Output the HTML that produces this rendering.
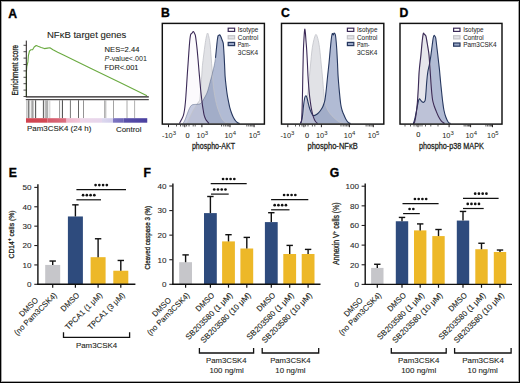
<!DOCTYPE html>
<html><head><meta charset="utf-8"><title>Figure</title>
<style>
html,body{margin:0;padding:0;background:#fff;}
body{width:520px;height:383px;overflow:hidden;}
svg{display:block;font-family:"Liberation Sans", sans-serif;}
#wrap{width:520px;height:383px;}
</style></head>
<body>
<div id="wrap">
<svg width="520" height="383" viewBox="0 0 520 383">
<rect x="0" y="0" width="520" height="383" fill="#fff"/>
<g transform="translate(8.2 18.2) scale(1 1)"><text x="0" y="0" font-size="12.2" font-weight="bold" fill="#000" stroke="#000" stroke-width="0.35">A</text></g>
<text x="86.7" y="38.1" font-size="9.8" text-anchor="middle" fill="#231f20" stroke="#231f20" stroke-width="0.1" textLength="79.4" lengthAdjust="spacingAndGlyphs">NF&#954;B target genes</text>
<text x="104.6" y="51.6" font-size="7.9" text-anchor="start" fill="#231f20" stroke="#231f20" stroke-width="0.1" textLength="34.8" lengthAdjust="spacingAndGlyphs">NES=2.44</text>
<text x="104.6" y="60.7" font-size="7.9" fill="#231f20" textLength="42.4" lengthAdjust="spacingAndGlyphs"><tspan font-style="italic">P</tspan>-value&lt;.001</text>
<text x="104.6" y="69.7" font-size="7.9" text-anchor="start" fill="#231f20" stroke="#231f20" stroke-width="0.1" textLength="33.8" lengthAdjust="spacingAndGlyphs">FDR&lt;.001</text>
<text x="17.6" y="70.1" font-size="8.2" text-anchor="middle" fill="#231f20" stroke="#231f20" stroke-width="0.3" textLength="50.6" lengthAdjust="spacingAndGlyphs" transform="rotate(-90 17.6 70.1)">Enrichment score</text>
<line x1="25.8" y1="96.9" x2="148.8" y2="96.9" stroke="#231f20" stroke-width="1.1"/>
<line x1="25.8" y1="99.7" x2="148.8" y2="99.7" stroke="#231f20" stroke-width="1"/>
<line x1="26.9" y1="100.2" x2="26.9" y2="118.2" stroke="#b4b4b4" stroke-width="1.2"/>
<line x1="28.8" y1="100.2" x2="28.8" y2="118.2" stroke="#505050" stroke-width="1.1"/>
<line x1="31.3" y1="100.2" x2="31.3" y2="118.2" stroke="#a8a8a8" stroke-width="0.9"/>
<line x1="32.5" y1="100.2" x2="32.5" y2="118.2" stroke="#9a9a9a" stroke-width="0.9"/>
<line x1="33.6" y1="100.2" x2="33.6" y2="118.2" stroke="#b0b0b0" stroke-width="0.8"/>
<line x1="35.6" y1="100.2" x2="35.6" y2="118.2" stroke="#555555" stroke-width="1.1"/>
<line x1="43.4" y1="100.2" x2="43.4" y2="118.2" stroke="#555555" stroke-width="1"/>
<line x1="45.2" y1="100.2" x2="45.2" y2="118.2" stroke="#a0a0a0" stroke-width="1"/>
<line x1="46.4" y1="100.2" x2="46.4" y2="118.2" stroke="#a8a8a8" stroke-width="1"/>
<line x1="47.7" y1="100.2" x2="47.7" y2="118.2" stroke="#9a9a9a" stroke-width="1"/>
<line x1="49.8" y1="100.2" x2="49.8" y2="118.2" stroke="#cccccc" stroke-width="1"/>
<line x1="59.6" y1="100.2" x2="59.6" y2="118.2" stroke="#8a8a8a" stroke-width="0.9"/>
<line x1="62.4" y1="100.2" x2="62.4" y2="118.2" stroke="#444444" stroke-width="1"/>
<line x1="70.4" y1="100.2" x2="70.4" y2="118.2" stroke="#666666" stroke-width="0.9"/>
<line x1="78.5" y1="100.2" x2="78.5" y2="118.2" stroke="#555555" stroke-width="0.9"/>
<line x1="83.5" y1="100.2" x2="83.5" y2="118.2" stroke="#888888" stroke-width="0.9"/>
<line x1="104.6" y1="100.2" x2="104.6" y2="118.2" stroke="#a0a0a0" stroke-width="0.9"/>
<line x1="105.8" y1="100.2" x2="105.8" y2="118.2" stroke="#a8a8a8" stroke-width="0.9"/>
<line x1="113.5" y1="100.2" x2="113.5" y2="118.2" stroke="#999999" stroke-width="0.9"/>
<line x1="127" y1="100.2" x2="127" y2="118.2" stroke="#a0a0a0" stroke-width="0.9"/>
<line x1="134.6" y1="100.2" x2="134.6" y2="118.2" stroke="#a8a8a8" stroke-width="0.9"/>
<defs>
<linearGradient id="gA0" x1="0" x2="1" y1="0" y2="0"><stop offset="0" stop-color="#d04450"/><stop offset="1" stop-color="#d24854"/></linearGradient>
<linearGradient id="gA1" x1="0" x2="1" y1="0" y2="0"><stop offset="0" stop-color="#d65a6a"/><stop offset="1" stop-color="#da6e80"/></linearGradient>
<linearGradient id="gA2" x1="0" x2="1" y1="0" y2="0"><stop offset="0" stop-color="#eeb4ca"/><stop offset="1" stop-color="#f0c6d8"/></linearGradient>
<linearGradient id="gA3" x1="0" x2="1" y1="0" y2="0"><stop offset="0" stop-color="#eed6e8"/><stop offset="1" stop-color="#e6d6ec"/></linearGradient>
<linearGradient id="gA4" x1="0" x2="1" y1="0" y2="0"><stop offset="0" stop-color="#dcd8ee"/><stop offset="1" stop-color="#d2cdec"/></linearGradient>
<linearGradient id="gA5" x1="0" x2="1" y1="0" y2="0"><stop offset="0" stop-color="#7e76c2"/><stop offset="1" stop-color="#6e66b8"/></linearGradient>
<linearGradient id="gA6" x1="0" x2="1" y1="0" y2="0"><stop offset="0" stop-color="#5a50aa"/><stop offset="1" stop-color="#4a40a0"/></linearGradient>
</defs>
<rect x="26" y="118.2" width="21.45" height="4.5" fill="url(#gA0)"/>
<rect x="47.4" y="118.2" width="19.15" height="4.5" fill="url(#gA1)"/>
<rect x="66.5" y="118.2" width="13.55" height="4.5" fill="url(#gA2)"/>
<rect x="80" y="118.2" width="22.05" height="4.5" fill="url(#gA3)"/>
<rect x="102" y="118.2" width="11.05" height="4.5" fill="url(#gA4)"/>
<rect x="113" y="118.2" width="10.55" height="4.5" fill="url(#gA5)"/>
<rect x="123.5" y="118.2" width="23.75" height="4.5" fill="url(#gA6)"/>
<text x="27" y="130.8" font-size="8.0" text-anchor="start" fill="#231f20" stroke="#231f20" stroke-width="0.1" textLength="64.3" lengthAdjust="spacingAndGlyphs">Pam3CSK4 (24 h)</text>
<text x="116" y="131.9" font-size="8.0" text-anchor="start" fill="#231f20" stroke="#231f20" stroke-width="0.1" textLength="25.5" lengthAdjust="spacingAndGlyphs">Control</text>
<path d="M26.4,96.6 L26.4,72 L26.8,66.6 L27.9,61.9 L28.4,55.7 L29.5,51 L31,49.7 L32.6,49.7 L34.2,47 L36.2,45.5 L38.1,46.3 L41.2,47.5 L44.4,48.6 L47.5,48.1 L49.9,47.8 L53,49.7 L57.7,52.2 L64,55.2 L90,67.9 L120,82.5 L147,95.8" fill="none" stroke="#6aaa40" stroke-width="1.1" stroke-linejoin="round"/>
<line x1="26.3" y1="40.6" x2="26.3" y2="97" stroke="#231f20" stroke-width="1"/>
<line x1="23.5" y1="45.3" x2="26.3" y2="45.3" stroke="#231f20" stroke-width="0.8"/>
<line x1="23.5" y1="51.7" x2="26.3" y2="51.7" stroke="#231f20" stroke-width="0.8"/>
<line x1="23.5" y1="58.1" x2="26.3" y2="58.1" stroke="#231f20" stroke-width="0.8"/>
<line x1="23.5" y1="64.5" x2="26.3" y2="64.5" stroke="#231f20" stroke-width="0.8"/>
<line x1="23.5" y1="70.9" x2="26.3" y2="70.9" stroke="#231f20" stroke-width="0.8"/>
<line x1="23.5" y1="77.3" x2="26.3" y2="77.3" stroke="#231f20" stroke-width="0.8"/>
<line x1="23.5" y1="83.7" x2="26.3" y2="83.7" stroke="#231f20" stroke-width="0.8"/>
<line x1="23.5" y1="90.1" x2="26.3" y2="90.1" stroke="#231f20" stroke-width="0.8"/>
<line x1="23.5" y1="96.5" x2="26.3" y2="96.5" stroke="#231f20" stroke-width="0.8"/>
<g transform="translate(160.9 17.2) scale(1 1)"><text x="0" y="0" font-size="12.2" font-weight="bold" fill="#000" stroke="#000" stroke-width="0.35">B</text></g>
<path d="M187,123.4 C187.5,122.33 188.92,119.23 190,117 C191.08,114.77 192.42,112 193.5,110 C194.58,108 195.67,106.33 196.5,105 C197.33,103.67 197.95,102.88 198.5,102 C199.05,101.12 199.47,101.37 199.8,99.7 C200.13,98.03 200.28,94.62 200.5,92 C200.72,89.38 200.88,86.83 201.1,84 C201.32,81.17 201.58,78.03 201.8,75 C202.02,71.97 202.08,69.13 202.4,65.8 C202.72,62.47 203.27,58.48 203.7,55 C204.13,51.52 204.57,47.9 205,44.9 C205.43,41.9 205.87,38.97 206.3,37 C206.73,35.03 207.17,33.1 207.6,33.1 C208.03,33.1 208.47,35.03 208.9,37 C209.33,38.97 209.87,42.07 210.2,44.9 C210.53,47.73 210.67,50.95 210.9,54 C211.13,57.05 211.37,60.2 211.6,63.2 C211.83,66.2 212.08,68.97 212.3,72 C212.52,75.03 212.62,78.23 212.9,81.4 C213.18,84.57 213.57,87.95 214,91 C214.43,94.05 214.95,97.03 215.5,99.7 C216.05,102.37 216.65,104.82 217.3,107 C217.95,109.18 218.73,111.05 219.4,112.8 C220.07,114.55 220.65,116.2 221.3,117.5 C221.95,118.8 222.52,119.73 223.3,120.6 C224.08,121.47 225.13,122.23 226,122.7 C226.87,123.17 228.08,123.28 228.5,123.4 L228.5,123.4 L187,123.4 Z" fill="#e1e2e6" fill-opacity="1.0" stroke="none"/>
<path d="M183,123.4 C183.2,123.08 183.78,122.32 184.2,121.5 C184.62,120.68 185.03,119.67 185.5,118.5 C185.97,117.33 186.5,115.83 187,114.5 C187.5,113.17 188,111.72 188.5,110.5 C189,109.28 189.5,108.07 190,107.2 C190.5,106.33 191,105.73 191.5,105.3 C192,104.87 192.42,104.75 193,104.6 C193.58,104.45 194.33,104.45 195,104.4 C195.67,104.35 196.33,104.35 197,104.3 C197.67,104.25 198.37,104.25 199,104.1 C199.63,103.95 200.28,103.78 200.8,103.4 C201.32,103.02 201.65,102.45 202.1,101.8 C202.55,101.15 203.02,100.33 203.5,99.5 C203.98,98.67 204.5,97.72 205,96.8 C205.5,95.88 206.03,95.05 206.5,94 C206.97,92.95 207.4,91.75 207.8,90.5 C208.2,89.25 208.5,88 208.9,86.5 C209.3,85 209.75,83.17 210.2,81.5 C210.65,79.83 211.15,78.25 211.6,76.5 C212.05,74.75 212.47,72.83 212.9,71 C213.33,69.17 213.77,67.68 214.2,65.5 C214.63,63.32 215.17,60.32 215.5,57.9 C215.83,55.48 215.98,53.17 216.2,51 C216.42,48.83 216.6,46.82 216.8,44.9 C217,42.98 217.18,41.03 217.4,39.5 C217.62,37.97 217.83,36.42 218.1,35.7 C218.37,34.98 218.7,35.32 219,35.2 C219.3,35.08 219.57,34.7 219.9,35 C220.23,35.3 220.65,36.22 221,37 C221.35,37.78 221.72,38.95 222,39.7 C222.28,40.45 222.48,40.85 222.7,41.5 C222.92,42.15 223.13,42.35 223.3,43.6 C223.47,44.85 223.57,47.05 223.7,49 C223.83,50.95 223.95,52.63 224.1,55.3 C224.25,57.97 224.43,61.52 224.6,65 C224.77,68.48 224.85,72.7 225.1,76.2 C225.35,79.7 225.75,82.95 226.1,86 C226.45,89.05 226.8,91.92 227.2,94.5 C227.6,97.08 228.07,99.32 228.5,101.5 C228.93,103.68 229.27,105.6 229.8,107.6 C230.33,109.6 231.05,111.77 231.7,113.5 C232.35,115.23 233.03,116.75 233.7,118 C234.37,119.25 235.03,120.22 235.7,121 C236.37,121.78 237.07,122.3 237.7,122.7 C238.33,123.1 239.2,123.28 239.5,123.4 L239.5,123.4 L183,123.4 Z" fill="#6377aa" fill-opacity="0.5" stroke="none"/>
<path d="M179.5,123.4 C179.62,123.15 179.82,122.63 180.2,121.9 C180.58,121.17 181.27,120.08 181.8,119 C182.33,117.92 182.95,116.9 183.4,115.4 C183.85,113.9 184.17,112.18 184.5,110 C184.83,107.82 185.13,105.13 185.4,102.3 C185.67,99.47 185.88,96.05 186.1,93 C186.32,89.95 186.48,87.33 186.7,84 C186.92,80.67 187.17,76.47 187.4,73 C187.63,69.53 187.87,66.53 188.1,63.2 C188.33,59.87 188.58,56.05 188.8,53 C189.02,49.95 189.2,47.32 189.4,44.9 C189.6,42.48 189.78,40.25 190,38.5 C190.22,36.75 190.43,35.22 190.7,34.4 C190.97,33.58 191.32,33.92 191.6,33.6 C191.88,33.28 192.12,32.85 192.4,32.5 C192.68,32.15 193.02,31.5 193.3,31.5 C193.58,31.5 193.85,32.08 194.1,32.5 C194.35,32.92 194.58,33.47 194.8,34 C195.02,34.53 195.15,34.37 195.4,35.7 C195.65,37.03 196,39.6 196.3,42 C196.6,44.4 196.9,47.1 197.2,50.1 C197.5,53.1 197.8,56.52 198.1,60 C198.4,63.48 198.72,67.67 199,71 C199.28,74.33 199.53,76.95 199.8,80 C200.07,83.05 200.32,86.38 200.6,89.3 C200.88,92.22 201.2,94.9 201.5,97.5 C201.8,100.1 202.1,102.73 202.4,104.9 C202.7,107.07 203,108.75 203.3,110.5 C203.6,112.25 203.78,113.9 204.2,115.4 C204.62,116.9 205.23,118.42 205.8,119.5 C206.37,120.58 207.07,121.25 207.6,121.9 C208.13,122.55 208.77,123.15 209,123.4 L209,123.4 L179.5,123.4 Z" fill="#f6eef8" fill-opacity="0.3" stroke="none"/>
<path d="M187,123.4 C187.5,122.33 188.92,119.23 190,117 C191.08,114.77 192.42,112 193.5,110 C194.58,108 195.67,106.33 196.5,105 C197.33,103.67 197.95,102.88 198.5,102 C199.05,101.12 199.47,101.37 199.8,99.7 C200.13,98.03 200.28,94.62 200.5,92 C200.72,89.38 200.88,86.83 201.1,84 C201.32,81.17 201.58,78.03 201.8,75 C202.02,71.97 202.08,69.13 202.4,65.8 C202.72,62.47 203.27,58.48 203.7,55 C204.13,51.52 204.57,47.9 205,44.9 C205.43,41.9 205.87,38.97 206.3,37 C206.73,35.03 207.17,33.1 207.6,33.1 C208.03,33.1 208.47,35.03 208.9,37 C209.33,38.97 209.87,42.07 210.2,44.9 C210.53,47.73 210.67,50.95 210.9,54 C211.13,57.05 211.37,60.2 211.6,63.2 C211.83,66.2 212.08,68.97 212.3,72 C212.52,75.03 212.62,78.23 212.9,81.4 C213.18,84.57 213.57,87.95 214,91 C214.43,94.05 214.95,97.03 215.5,99.7 C216.05,102.37 216.65,104.82 217.3,107 C217.95,109.18 218.73,111.05 219.4,112.8 C220.07,114.55 220.65,116.2 221.3,117.5 C221.95,118.8 222.52,119.73 223.3,120.6 C224.08,121.47 225.13,122.23 226,122.7 C226.87,123.17 228.08,123.28 228.5,123.4" fill="none" stroke="#c2c3c9" stroke-width="0.8" stroke-opacity="1.0" stroke-linejoin="round"/>
<path d="M183,123.4 C183.2,123.08 183.78,122.32 184.2,121.5 C184.62,120.68 185.03,119.67 185.5,118.5 C185.97,117.33 186.5,115.83 187,114.5 C187.5,113.17 188,111.72 188.5,110.5 C189,109.28 189.5,108.07 190,107.2 C190.5,106.33 191,105.73 191.5,105.3 C192,104.87 192.42,104.75 193,104.6 C193.58,104.45 194.33,104.45 195,104.4 C195.67,104.35 196.33,104.35 197,104.3 C197.67,104.25 198.37,104.25 199,104.1 C199.63,103.95 200.28,103.78 200.8,103.4 C201.32,103.02 201.65,102.45 202.1,101.8 C202.55,101.15 203.02,100.33 203.5,99.5 C203.98,98.67 204.5,97.72 205,96.8 C205.5,95.88 206.03,95.05 206.5,94 C206.97,92.95 207.4,91.75 207.8,90.5 C208.2,89.25 208.5,88 208.9,86.5 C209.3,85 209.75,83.17 210.2,81.5 C210.65,79.83 211.15,78.25 211.6,76.5 C212.05,74.75 212.47,72.83 212.9,71 C213.33,69.17 213.77,67.68 214.2,65.5 C214.63,63.32 215.28,59.17 215.5,57.9" fill="none" stroke="#26375f" stroke-width="1" stroke-opacity="0.35" stroke-linejoin="round"/>
<path d="M215.5,57.9 C215.62,56.75 215.98,53.17 216.2,51 C216.42,48.83 216.6,46.82 216.8,44.9 C217,42.98 217.18,41.03 217.4,39.5 C217.62,37.97 217.83,36.42 218.1,35.7 C218.37,34.98 218.7,35.32 219,35.2 C219.3,35.08 219.57,34.7 219.9,35 C220.23,35.3 220.65,36.22 221,37 C221.35,37.78 221.72,38.95 222,39.7 C222.28,40.45 222.48,40.85 222.7,41.5 C222.92,42.15 223.13,42.35 223.3,43.6 C223.47,44.85 223.57,47.05 223.7,49 C223.83,50.95 223.95,52.63 224.1,55.3 C224.25,57.97 224.43,61.52 224.6,65 C224.77,68.48 224.85,72.7 225.1,76.2 C225.35,79.7 225.75,82.95 226.1,86 C226.45,89.05 226.8,91.92 227.2,94.5 C227.6,97.08 228.07,99.32 228.5,101.5 C228.93,103.68 229.27,105.6 229.8,107.6 C230.33,109.6 231.05,111.77 231.7,113.5 C232.35,115.23 233.03,116.75 233.7,118 C234.37,119.25 235.03,120.22 235.7,121 C236.37,121.78 237.07,122.3 237.7,122.7 C238.33,123.1 239.2,123.28 239.5,123.4" fill="none" stroke="#26375f" stroke-width="1.1" stroke-opacity="1.0" stroke-linejoin="round"/>
<path d="M179.5,123.4 C179.62,123.15 179.82,122.63 180.2,121.9 C180.58,121.17 181.27,120.08 181.8,119 C182.33,117.92 182.95,116.9 183.4,115.4 C183.85,113.9 184.17,112.18 184.5,110 C184.83,107.82 185.13,105.13 185.4,102.3 C185.67,99.47 185.88,96.05 186.1,93 C186.32,89.95 186.48,87.33 186.7,84 C186.92,80.67 187.17,76.47 187.4,73 C187.63,69.53 187.87,66.53 188.1,63.2 C188.33,59.87 188.58,56.05 188.8,53 C189.02,49.95 189.2,47.32 189.4,44.9 C189.6,42.48 189.78,40.25 190,38.5 C190.22,36.75 190.43,35.22 190.7,34.4 C190.97,33.58 191.32,33.92 191.6,33.6 C191.88,33.28 192.12,32.85 192.4,32.5 C192.68,32.15 193.02,31.5 193.3,31.5 C193.58,31.5 193.85,32.08 194.1,32.5 C194.35,32.92 194.58,33.47 194.8,34 C195.02,34.53 195.15,34.37 195.4,35.7 C195.65,37.03 196,39.6 196.3,42 C196.6,44.4 196.9,47.1 197.2,50.1 C197.5,53.1 197.8,56.52 198.1,60 C198.4,63.48 198.72,67.67 199,71 C199.28,74.33 199.53,76.95 199.8,80 C200.07,83.05 200.32,86.38 200.6,89.3 C200.88,92.22 201.2,94.9 201.5,97.5 C201.8,100.1 202.1,102.73 202.4,104.9 C202.7,107.07 203,108.75 203.3,110.5 C203.6,112.25 203.78,113.9 204.2,115.4 C204.62,116.9 205.23,118.42 205.8,119.5 C206.37,120.58 207.07,121.25 207.6,121.9 C208.13,122.55 208.77,123.15 209,123.4" fill="none" stroke="#3b2a57" stroke-width="1.1" stroke-opacity="1.0" stroke-linejoin="round"/>
<rect x="162.3" y="23.4" width="102.1" height="100.7" fill="none" stroke="#111" stroke-width="1.45"/>
<rect x="228.2" y="28.2" width="6.4" height="3.2" fill="#ffffff" stroke="#3b2a57" stroke-width="1.2"/>
<text x="237.8" y="32.3" font-size="6.9" text-anchor="start" fill="#2a2a2a" stroke="#2a2a2a" stroke-width="0.05" textLength="20.4" lengthAdjust="spacingAndGlyphs">Isotype</text>
<rect x="228.2" y="35.7" width="6.4" height="3.2" fill="#e4e4e8" stroke="#c4c4c8" stroke-width="1.2"/>
<text x="237.8" y="39.8" font-size="6.9" text-anchor="start" fill="#2a2a2a" stroke="#2a2a2a" stroke-width="0.05" textLength="20.5" lengthAdjust="spacingAndGlyphs">Control</text>
<rect x="228.2" y="42.4" width="6.4" height="3.2" fill="#9aa8c6" stroke="#26375f" stroke-width="1.2"/>
<text x="237.8" y="46.5" font-size="6.9" text-anchor="start" fill="#2a2a2a" stroke="#2a2a2a" stroke-width="0.05" textLength="12.6" lengthAdjust="spacingAndGlyphs">Pam-</text>
<text x="237.8" y="54.8" font-size="6.9" text-anchor="start" fill="#2a2a2a" stroke="#2a2a2a" stroke-width="0.05" textLength="20.4" lengthAdjust="spacingAndGlyphs">3CSK4</text>
<line x1="168.5" y1="124.3" x2="168.5" y2="127.2" stroke="#231f20" stroke-width="1"/>
<line x1="184.8" y1="124.3" x2="184.8" y2="127.2" stroke="#231f20" stroke-width="1"/>
<line x1="201.9" y1="124.3" x2="201.9" y2="127.2" stroke="#231f20" stroke-width="1"/>
<line x1="230" y1="124.3" x2="230" y2="127.2" stroke="#231f20" stroke-width="1"/>
<line x1="254.1" y1="124.3" x2="254.1" y2="127.2" stroke="#231f20" stroke-width="1"/>
<line x1="176.5" y1="124.3" x2="176.5" y2="126.5" stroke="#333" stroke-width="0.8"/>
<line x1="180.5" y1="124.3" x2="180.5" y2="126.5" stroke="#333" stroke-width="0.8"/>
<line x1="183" y1="124.3" x2="183" y2="126.5" stroke="#333" stroke-width="0.8"/>
<line x1="186.6" y1="124.3" x2="186.6" y2="126.5" stroke="#333" stroke-width="0.8"/>
<line x1="189" y1="124.3" x2="189" y2="126.5" stroke="#333" stroke-width="0.8"/>
<line x1="193.2" y1="124.3" x2="193.2" y2="126.5" stroke="#333" stroke-width="0.8"/>
<line x1="195.2" y1="124.3" x2="195.2" y2="126.5" stroke="#333" stroke-width="0.8"/>
<line x1="221.54" y1="124.3" x2="221.54" y2="126.5" stroke="#333" stroke-width="0.8"/>
<line x1="223.77" y1="124.3" x2="223.77" y2="126.5" stroke="#333" stroke-width="0.8"/>
<line x1="225.65" y1="124.3" x2="225.65" y2="126.5" stroke="#333" stroke-width="0.8"/>
<line x1="227.28" y1="124.3" x2="227.28" y2="126.5" stroke="#333" stroke-width="0.8"/>
<line x1="228.71" y1="124.3" x2="228.71" y2="126.5" stroke="#333" stroke-width="0.8"/>
<line x1="246.85" y1="124.3" x2="246.85" y2="126.5" stroke="#333" stroke-width="0.8"/>
<line x1="248.75" y1="124.3" x2="248.75" y2="126.5" stroke="#333" stroke-width="0.8"/>
<line x1="250.37" y1="124.3" x2="250.37" y2="126.5" stroke="#333" stroke-width="0.8"/>
<line x1="251.76" y1="124.3" x2="251.76" y2="126.5" stroke="#333" stroke-width="0.8"/>
<line x1="253" y1="124.3" x2="253" y2="126.5" stroke="#333" stroke-width="0.8"/>
<text x="169" y="137.6" font-size="7.4" text-anchor="middle" fill="#231f20">-10<tspan font-size="5.92" dy="-3">3</tspan></text>
<text x="187.5" y="137.6" font-size="7.4" text-anchor="middle" fill="#231f20" stroke="#231f20" stroke-width="0.1">0</text>
<text x="202.3" y="137.6" font-size="7.4" text-anchor="middle" fill="#231f20">10<tspan font-size="5.92" dy="-3">3</tspan></text>
<text x="230.2" y="137.6" font-size="7.4" text-anchor="middle" fill="#231f20">10<tspan font-size="5.92" dy="-3">4</tspan></text>
<text x="254.6" y="137.6" font-size="7.4" text-anchor="middle" fill="#231f20">10<tspan font-size="5.92" dy="-3">5</tspan></text>
<text x="213.5" y="148.7" font-size="9.6" text-anchor="middle" fill="#231f20" stroke="#231f20" stroke-width="0.3" textLength="43.2" lengthAdjust="spacingAndGlyphs">phospho-AKT</text>
<g transform="translate(280.9 17.2) scale(1 1)"><text x="0" y="0" font-size="12.2" font-weight="bold" fill="#000" stroke="#000" stroke-width="0.35">C</text></g>
<path d="M302.5,123.4 C302.75,122.5 303.5,120.23 304,118 C304.5,115.77 305.03,113 305.5,110 C305.97,107 306.38,103.02 306.8,100 C307.22,96.98 307.57,95.87 308,91.9 C308.43,87.93 308.95,81.02 309.4,76.2 C309.85,71.38 310.27,67.37 310.7,63 C311.13,58.63 311.52,53.67 312,50 C312.48,46.33 313.1,43.33 313.6,41 C314.1,38.67 314.62,37.1 315,36 C315.38,34.9 315.6,34.48 315.9,34.4 C316.2,34.32 316.48,34.82 316.8,35.5 C317.12,36.18 317.47,37.25 317.8,38.5 C318.13,39.75 318.47,41.08 318.8,43 C319.13,44.92 319.42,46.67 319.8,50 C320.18,53.33 320.67,58.63 321.1,63 C321.53,67.37 321.97,71.38 322.4,76.2 C322.83,81.02 323.27,87.55 323.7,91.9 C324.13,96.25 324.45,99.53 325,102.3 C325.55,105.07 326.17,106.63 327,108.5 C327.83,110.37 328.83,111.95 330,113.5 C331.17,115.05 332.58,116.47 334,117.8 C335.42,119.13 337,120.57 338.5,121.5 C340,122.43 342.25,123.08 343,123.4 L343,123.4 L302.5,123.4 Z" fill="#e1e2e6" fill-opacity="1.0" stroke="none"/>
<path d="M300.5,123.4 C300.67,123 301.17,122.23 301.5,121 C301.83,119.77 302.17,118.5 302.5,116 C302.83,113.5 303.15,108.92 303.5,106 C303.85,103.08 304.27,100.17 304.6,98.5 C304.93,96.83 305.2,96.38 305.5,96 C305.8,95.62 306.1,95.7 306.4,96.2 C306.7,96.7 307,97.87 307.3,99 C307.6,100.13 307.83,101.5 308.2,103 C308.57,104.5 309.03,106.5 309.5,108 C309.97,109.5 310.5,110.87 311,112 C311.5,113.13 312,114.2 312.5,114.8 C313,115.4 313.42,115.6 314,115.6 C314.58,115.6 315.25,115.27 316,114.8 C316.75,114.33 317.75,113.52 318.5,112.8 C319.25,112.08 319.85,111.37 320.5,110.5 C321.15,109.63 321.85,108.68 322.4,107.6 C322.95,106.52 323.37,105.32 323.8,104 C324.23,102.68 324.58,102.15 325,99.7 C325.42,97.25 325.87,93.22 326.3,89.3 C326.73,85.38 327.15,80.55 327.6,76.2 C328.05,71.85 328.57,67.55 329,63.2 C329.43,58.85 329.83,53.97 330.2,50.1 C330.57,46.23 330.9,42.6 331.2,40 C331.5,37.4 331.77,35.57 332,34.5 C332.23,33.43 332.38,33.52 332.6,33.6 C332.82,33.68 333.07,35.07 333.3,35 C333.53,34.93 333.75,33.43 334,33.2 C334.25,32.97 334.55,33.22 334.8,33.6 C335.05,33.98 335.27,34.1 335.5,35.5 C335.73,36.9 335.98,39.58 336.2,42 C336.42,44.42 336.58,46.5 336.8,50 C337.02,53.5 337.28,58.63 337.5,63 C337.72,67.37 337.78,71.38 338.1,76.2 C338.42,81.02 338.97,87.27 339.4,91.9 C339.83,96.53 340.27,100.98 340.7,104 C341.13,107.02 341.57,108.42 342,110 C342.43,111.58 342.65,111.95 343.3,113.5 C343.95,115.05 345.03,117.77 345.9,119.3 C346.77,120.83 347.73,122.02 348.5,122.7 C349.27,123.38 350.17,123.28 350.5,123.4 L350.5,123.4 L300.5,123.4 Z" fill="#6377aa" fill-opacity="0.5" stroke="none"/>
<path d="M300.3,123.4 C300.5,122.93 301.22,122.5 301.5,120.6 C301.78,118.7 301.87,115.1 302,112 C302.13,108.9 302.2,106 302.3,102 C302.4,98 302.52,92.33 302.6,88 C302.68,83.67 302.72,80.33 302.8,76 C302.88,71.67 303,66.33 303.1,62 C303.2,57.67 303.27,53.67 303.4,50 C303.53,46.33 303.73,43 303.9,40 C304.07,37 304.23,33.8 304.4,32 C304.57,30.2 304.73,29.03 304.9,29.2 C305.07,29.37 305.22,31.03 305.4,33 C305.58,34.97 305.78,38.17 306,41 C306.22,43.83 306.47,46.33 306.7,50 C306.93,53.67 307.18,58.67 307.4,63 C307.62,67.33 307.78,72.17 308,76 C308.22,79.83 308.47,82.92 308.7,86 C308.93,89.08 309.13,91.92 309.4,94.5 C309.67,97.08 310,99.32 310.3,101.5 C310.6,103.68 310.88,105.77 311.2,107.6 C311.52,109.43 311.85,110.98 312.2,112.5 C312.55,114.02 312.9,115.45 313.3,116.7 C313.7,117.95 314.17,119.12 314.6,120 C315.03,120.88 315.42,121.43 315.9,122 C316.38,122.57 317.23,123.17 317.5,123.4 L317.5,123.4 L300.3,123.4 Z" fill="#f6eef8" fill-opacity="0.3" stroke="none"/>
<path d="M302.5,123.4 C302.75,122.5 303.5,120.23 304,118 C304.5,115.77 305.03,113 305.5,110 C305.97,107 306.38,103.02 306.8,100 C307.22,96.98 307.57,95.87 308,91.9 C308.43,87.93 308.95,81.02 309.4,76.2 C309.85,71.38 310.27,67.37 310.7,63 C311.13,58.63 311.52,53.67 312,50 C312.48,46.33 313.1,43.33 313.6,41 C314.1,38.67 314.62,37.1 315,36 C315.38,34.9 315.6,34.48 315.9,34.4 C316.2,34.32 316.48,34.82 316.8,35.5 C317.12,36.18 317.47,37.25 317.8,38.5 C318.13,39.75 318.47,41.08 318.8,43 C319.13,44.92 319.42,46.67 319.8,50 C320.18,53.33 320.67,58.63 321.1,63 C321.53,67.37 321.97,71.38 322.4,76.2 C322.83,81.02 323.27,87.55 323.7,91.9 C324.13,96.25 324.45,99.53 325,102.3 C325.55,105.07 326.17,106.63 327,108.5 C327.83,110.37 328.83,111.95 330,113.5 C331.17,115.05 332.58,116.47 334,117.8 C335.42,119.13 337,120.57 338.5,121.5 C340,122.43 342.25,123.08 343,123.4" fill="none" stroke="#c2c3c9" stroke-width="0.8" stroke-opacity="1.0" stroke-linejoin="round"/>
<path d="M300.5,123.4 C300.67,123 301.17,122.23 301.5,121 C301.83,119.77 302.17,118.5 302.5,116 C302.83,113.5 303.15,108.92 303.5,106 C303.85,103.08 304.27,100.17 304.6,98.5 C304.93,96.83 305.2,96.38 305.5,96 C305.8,95.62 306.1,95.7 306.4,96.2 C306.7,96.7 307,97.87 307.3,99 C307.6,100.13 307.83,101.5 308.2,103 C308.57,104.5 309.03,106.5 309.5,108 C309.97,109.5 310.5,110.87 311,112 C311.5,113.13 312,114.2 312.5,114.8 C313,115.4 313.42,115.6 314,115.6 C314.58,115.6 315.25,115.27 316,114.8 C316.75,114.33 317.75,113.52 318.5,112.8 C319.25,112.08 319.85,111.37 320.5,110.5 C321.15,109.63 321.85,108.68 322.4,107.6 C322.95,106.52 323.37,105.32 323.8,104 C324.23,102.68 324.58,102.15 325,99.7 C325.42,97.25 325.87,93.22 326.3,89.3 C326.73,85.38 327.15,80.55 327.6,76.2 C328.05,71.85 328.57,67.55 329,63.2 C329.43,58.85 329.83,53.97 330.2,50.1 C330.57,46.23 330.9,42.6 331.2,40 C331.5,37.4 331.77,35.57 332,34.5 C332.23,33.43 332.38,33.52 332.6,33.6 C332.82,33.68 333.07,35.07 333.3,35 C333.53,34.93 333.75,33.43 334,33.2 C334.25,32.97 334.55,33.22 334.8,33.6 C335.05,33.98 335.27,34.1 335.5,35.5 C335.73,36.9 335.98,39.58 336.2,42 C336.42,44.42 336.58,46.5 336.8,50 C337.02,53.5 337.28,58.63 337.5,63 C337.72,67.37 337.78,71.38 338.1,76.2 C338.42,81.02 338.97,87.27 339.4,91.9 C339.83,96.53 340.27,100.98 340.7,104 C341.13,107.02 341.57,108.42 342,110 C342.43,111.58 342.65,111.95 343.3,113.5 C343.95,115.05 345.03,117.77 345.9,119.3 C346.77,120.83 347.73,122.02 348.5,122.7 C349.27,123.38 350.17,123.28 350.5,123.4" fill="none" stroke="#26375f" stroke-width="1.1" stroke-opacity="1.0" stroke-linejoin="round"/>
<path d="M300.3,123.4 C300.5,122.93 301.22,122.5 301.5,120.6 C301.78,118.7 301.87,115.1 302,112 C302.13,108.9 302.2,106 302.3,102 C302.4,98 302.52,92.33 302.6,88 C302.68,83.67 302.72,80.33 302.8,76 C302.88,71.67 303,66.33 303.1,62 C303.2,57.67 303.27,53.67 303.4,50 C303.53,46.33 303.73,43 303.9,40 C304.07,37 304.23,33.8 304.4,32 C304.57,30.2 304.73,29.03 304.9,29.2 C305.07,29.37 305.22,31.03 305.4,33 C305.58,34.97 305.78,38.17 306,41 C306.22,43.83 306.47,46.33 306.7,50 C306.93,53.67 307.18,58.67 307.4,63 C307.62,67.33 307.78,72.17 308,76 C308.22,79.83 308.47,82.92 308.7,86 C308.93,89.08 309.13,91.92 309.4,94.5 C309.67,97.08 310,99.32 310.3,101.5 C310.6,103.68 310.88,105.77 311.2,107.6 C311.52,109.43 311.85,110.98 312.2,112.5 C312.55,114.02 312.9,115.45 313.3,116.7 C313.7,117.95 314.17,119.12 314.6,120 C315.03,120.88 315.42,121.43 315.9,122 C316.38,122.57 317.23,123.17 317.5,123.4" fill="none" stroke="#3b2a57" stroke-width="1.1" stroke-opacity="1.0" stroke-linejoin="round"/>
<rect x="281.5" y="23.4" width="102.3" height="100.7" fill="none" stroke="#111" stroke-width="1.45"/>
<rect x="347.4" y="28.2" width="6.4" height="3.2" fill="#ffffff" stroke="#3b2a57" stroke-width="1.2"/>
<text x="357" y="32.3" font-size="6.9" text-anchor="start" fill="#2a2a2a" stroke="#2a2a2a" stroke-width="0.05" textLength="20.4" lengthAdjust="spacingAndGlyphs">Isotype</text>
<rect x="347.4" y="35.7" width="6.4" height="3.2" fill="#e4e4e8" stroke="#c4c4c8" stroke-width="1.2"/>
<text x="357" y="39.8" font-size="6.9" text-anchor="start" fill="#2a2a2a" stroke="#2a2a2a" stroke-width="0.05" textLength="20.5" lengthAdjust="spacingAndGlyphs">Control</text>
<rect x="347.4" y="42.4" width="6.4" height="3.2" fill="#9aa8c6" stroke="#26375f" stroke-width="1.2"/>
<text x="357" y="46.5" font-size="6.9" text-anchor="start" fill="#2a2a2a" stroke="#2a2a2a" stroke-width="0.05" textLength="12.6" lengthAdjust="spacingAndGlyphs">Pam-</text>
<text x="357" y="54.8" font-size="6.9" text-anchor="start" fill="#2a2a2a" stroke="#2a2a2a" stroke-width="0.05" textLength="20.4" lengthAdjust="spacingAndGlyphs">3CSK4</text>
<line x1="287.8" y1="124.3" x2="287.8" y2="127.2" stroke="#231f20" stroke-width="1"/>
<line x1="303.9" y1="124.3" x2="303.9" y2="127.2" stroke="#231f20" stroke-width="1"/>
<line x1="321.4" y1="124.3" x2="321.4" y2="127.2" stroke="#231f20" stroke-width="1"/>
<line x1="349.4" y1="124.3" x2="349.4" y2="127.2" stroke="#231f20" stroke-width="1"/>
<line x1="373.3" y1="124.3" x2="373.3" y2="127.2" stroke="#231f20" stroke-width="1"/>
<line x1="295.5" y1="124.3" x2="295.5" y2="126.5" stroke="#333" stroke-width="0.8"/>
<line x1="299.5" y1="124.3" x2="299.5" y2="126.5" stroke="#333" stroke-width="0.8"/>
<line x1="302" y1="124.3" x2="302" y2="126.5" stroke="#333" stroke-width="0.8"/>
<line x1="305.6" y1="124.3" x2="305.6" y2="126.5" stroke="#333" stroke-width="0.8"/>
<line x1="308" y1="124.3" x2="308" y2="126.5" stroke="#333" stroke-width="0.8"/>
<line x1="312.4" y1="124.3" x2="312.4" y2="126.5" stroke="#333" stroke-width="0.8"/>
<line x1="314.8" y1="124.3" x2="314.8" y2="126.5" stroke="#333" stroke-width="0.8"/>
<line x1="340.97" y1="124.3" x2="340.97" y2="126.5" stroke="#333" stroke-width="0.8"/>
<line x1="343.19" y1="124.3" x2="343.19" y2="126.5" stroke="#333" stroke-width="0.8"/>
<line x1="345.06" y1="124.3" x2="345.06" y2="126.5" stroke="#333" stroke-width="0.8"/>
<line x1="346.69" y1="124.3" x2="346.69" y2="126.5" stroke="#333" stroke-width="0.8"/>
<line x1="348.12" y1="124.3" x2="348.12" y2="126.5" stroke="#333" stroke-width="0.8"/>
<line x1="366.11" y1="124.3" x2="366.11" y2="126.5" stroke="#333" stroke-width="0.8"/>
<line x1="368" y1="124.3" x2="368" y2="126.5" stroke="#333" stroke-width="0.8"/>
<line x1="369.6" y1="124.3" x2="369.6" y2="126.5" stroke="#333" stroke-width="0.8"/>
<line x1="370.98" y1="124.3" x2="370.98" y2="126.5" stroke="#333" stroke-width="0.8"/>
<line x1="372.21" y1="124.3" x2="372.21" y2="126.5" stroke="#333" stroke-width="0.8"/>
<text x="287.4" y="137.6" font-size="7.4" text-anchor="middle" fill="#231f20">-10<tspan font-size="5.92" dy="-3">3</tspan></text>
<text x="307" y="137.6" font-size="7.4" text-anchor="middle" fill="#231f20" stroke="#231f20" stroke-width="0.1">0</text>
<text x="321.7" y="137.6" font-size="7.4" text-anchor="middle" fill="#231f20">10<tspan font-size="5.92" dy="-3">3</tspan></text>
<text x="349.6" y="137.6" font-size="7.4" text-anchor="middle" fill="#231f20">10<tspan font-size="5.92" dy="-3">4</tspan></text>
<text x="373.6" y="137.6" font-size="7.4" text-anchor="middle" fill="#231f20">10<tspan font-size="5.92" dy="-3">5</tspan></text>
<text x="332.6" y="148.8" font-size="9.6" text-anchor="middle" fill="#231f20" stroke="#231f20" stroke-width="0.3" textLength="50.2" lengthAdjust="spacingAndGlyphs">phospho-NF&#954;B</text>
<g transform="translate(399.4 17.2) scale(1 1)"><text x="0" y="0" font-size="12.2" font-weight="bold" fill="#000" stroke="#000" stroke-width="0.35">D</text></g>
<path d="M413.2,123.4 C413.47,123.17 414.25,123.73 414.8,122 C415.35,120.27 416.03,116.33 416.5,113 C416.97,109.67 417.27,106.03 417.6,102 C417.93,97.97 418.22,93.67 418.5,88.8 C418.78,83.93 419,77.13 419.3,72.8 C419.6,68.47 420,65.63 420.3,62.8 C420.6,59.97 420.8,58.8 421.1,55.8 C421.4,52.8 421.8,47.8 422.1,44.8 C422.4,41.8 422.65,39.6 422.9,37.8 C423.15,36 423.33,34.47 423.6,34 C423.87,33.53 424.2,34.7 424.5,35 C424.8,35.3 425.12,35.43 425.4,35.8 C425.68,36.17 425.9,36.03 426.2,37.2 C426.5,38.37 426.87,40.87 427.2,42.8 C427.53,44.73 427.87,46.63 428.2,48.8 C428.53,50.97 428.9,52.8 429.2,55.8 C429.5,58.8 429.75,63.3 430,66.8 C430.25,70.3 430.42,72.8 430.7,76.8 C430.98,80.8 431.35,86.93 431.7,90.8 C432.05,94.67 432.35,97.47 432.8,100 C433.25,102.53 433.85,104.25 434.4,106 C434.95,107.75 435.38,108.75 436.1,110.5 C436.82,112.25 437.82,114.78 438.7,116.5 C439.58,118.22 440.4,119.65 441.4,120.8 C442.4,121.95 444.15,122.97 444.7,123.4 L444.7,123.4 L413.2,123.4 Z" fill="#e1e2e6" fill-opacity="1.0" stroke="none"/>
<path d="M413.5,123.4 C413.75,122.5 414.45,120.4 415,118 C415.55,115.6 416.25,111.75 416.8,109 C417.35,106.25 417.87,103.2 418.3,101.5 C418.73,99.8 418.95,98.95 419.4,98.8 C419.85,98.65 420.42,100.02 421,100.6 C421.58,101.18 422.33,102.13 422.9,102.3 C423.47,102.47 424,102.05 424.4,101.6 C424.8,101.15 425.03,101.2 425.3,99.6 C425.57,98 425.75,95.1 426,92 C426.25,88.9 426.5,84.33 426.8,81 C427.1,77.67 427.35,74.83 427.8,72 C428.25,69.17 429,66.67 429.5,64 C430,61.33 430.37,59 430.8,56 C431.23,53 431.7,49 432.1,46 C432.5,43 432.88,39.75 433.2,38 C433.52,36.25 433.73,35.8 434,35.5 C434.27,35.2 434.52,35.82 434.8,36.2 C435.08,36.58 435.4,36.33 435.7,37.8 C436,39.27 436.25,42.13 436.6,45 C436.95,47.87 437.45,52 437.8,55 C438.15,58 438.42,60.5 438.7,63 C438.98,65.5 439.22,67.17 439.5,70 C439.78,72.83 440.08,76.67 440.4,80 C440.72,83.33 441.03,86.5 441.4,90 C441.77,93.5 442.18,97.67 442.6,101 C443.02,104.33 443.37,107.33 443.9,110 C444.43,112.67 445.07,114.97 445.8,117 C446.53,119.03 447.52,121.13 448.3,122.2 C449.08,123.27 450.13,123.2 450.5,123.4 L450.5,123.4 L413.5,123.4 Z" fill="#6377aa" fill-opacity="0.5" stroke="none"/>
<path d="M413,123.4 C413.27,123.17 414.05,123.73 414.6,122 C415.15,120.27 415.83,116.33 416.3,113 C416.77,109.67 417.07,106.17 417.4,102 C417.73,97.83 418.02,93 418.3,88 C418.58,83 418.8,76.33 419.1,72 C419.4,67.67 419.8,64.83 420.1,62 C420.4,59.17 420.6,58 420.9,55 C421.2,52 421.6,47 421.9,44 C422.2,41 422.45,38.8 422.7,37 C422.95,35.2 423.13,33.67 423.4,33.2 C423.67,32.73 424,33.9 424.3,34.2 C424.6,34.5 424.92,34.63 425.2,35 C425.48,35.37 425.7,35.23 426,36.4 C426.3,37.57 426.67,40.07 427,42 C427.33,43.93 427.67,45.83 428,48 C428.33,50.17 428.7,52 429,55 C429.3,58 429.55,62.5 429.8,66 C430.05,69.5 430.22,72 430.5,76 C430.78,80 431.15,86 431.5,90 C431.85,94 432.15,97.33 432.6,100 C433.05,102.67 433.65,104.25 434.2,106 C434.75,107.75 435.18,108.75 435.9,110.5 C436.62,112.25 437.62,114.78 438.5,116.5 C439.38,118.22 440.2,119.65 441.2,120.8 C442.2,121.95 443.95,122.97 444.5,123.4 L444.5,123.4 L413,123.4 Z" fill="#f6eef8" fill-opacity="0.32" stroke="none"/>
<path d="M413.2,123.4 C413.47,123.17 414.25,123.73 414.8,122 C415.35,120.27 416.03,116.33 416.5,113 C416.97,109.67 417.27,106.03 417.6,102 C417.93,97.97 418.22,93.67 418.5,88.8 C418.78,83.93 419,77.13 419.3,72.8 C419.6,68.47 420,65.63 420.3,62.8 C420.6,59.97 420.8,58.8 421.1,55.8 C421.4,52.8 421.8,47.8 422.1,44.8 C422.4,41.8 422.65,39.6 422.9,37.8 C423.15,36 423.33,34.47 423.6,34 C423.87,33.53 424.2,34.7 424.5,35 C424.8,35.3 425.12,35.43 425.4,35.8 C425.68,36.17 425.9,36.03 426.2,37.2 C426.5,38.37 426.87,40.87 427.2,42.8 C427.53,44.73 427.87,46.63 428.2,48.8 C428.53,50.97 428.9,52.8 429.2,55.8 C429.5,58.8 429.75,63.3 430,66.8 C430.25,70.3 430.42,72.8 430.7,76.8 C430.98,80.8 431.35,86.93 431.7,90.8 C432.05,94.67 432.35,97.47 432.8,100 C433.25,102.53 433.85,104.25 434.4,106 C434.95,107.75 435.38,108.75 436.1,110.5 C436.82,112.25 437.82,114.78 438.7,116.5 C439.58,118.22 440.4,119.65 441.4,120.8 C442.4,121.95 444.15,122.97 444.7,123.4" fill="none" stroke="#c2c3c9" stroke-width="0.8" stroke-opacity="1.0" stroke-linejoin="round"/>
<path d="M413.5,123.4 C413.75,122.5 414.45,120.4 415,118 C415.55,115.6 416.25,111.75 416.8,109 C417.35,106.25 417.87,103.2 418.3,101.5 C418.73,99.8 418.95,98.95 419.4,98.8 C419.85,98.65 420.42,100.02 421,100.6 C421.58,101.18 422.33,102.13 422.9,102.3 C423.47,102.47 424,102.05 424.4,101.6 C424.8,101.15 425.03,101.2 425.3,99.6 C425.57,98 425.75,95.1 426,92 C426.25,88.9 426.5,84.33 426.8,81 C427.1,77.67 427.35,74.83 427.8,72 C428.25,69.17 429,66.67 429.5,64 C430,61.33 430.37,59 430.8,56 C431.23,53 431.7,49 432.1,46 C432.5,43 432.88,39.75 433.2,38 C433.52,36.25 433.73,35.8 434,35.5 C434.27,35.2 434.52,35.82 434.8,36.2 C435.08,36.58 435.4,36.33 435.7,37.8 C436,39.27 436.25,42.13 436.6,45 C436.95,47.87 437.45,52 437.8,55 C438.15,58 438.42,60.5 438.7,63 C438.98,65.5 439.22,67.17 439.5,70 C439.78,72.83 440.08,76.67 440.4,80 C440.72,83.33 441.03,86.5 441.4,90 C441.77,93.5 442.18,97.67 442.6,101 C443.02,104.33 443.37,107.33 443.9,110 C444.43,112.67 445.07,114.97 445.8,117 C446.53,119.03 447.52,121.13 448.3,122.2 C449.08,123.27 450.13,123.2 450.5,123.4" fill="none" stroke="#26375f" stroke-width="1.1" stroke-opacity="1.0" stroke-linejoin="round"/>
<path d="M413,123.4 C413.27,123.17 414.05,123.73 414.6,122 C415.15,120.27 415.83,116.33 416.3,113 C416.77,109.67 417.07,106.17 417.4,102 C417.73,97.83 418.02,93 418.3,88 C418.58,83 418.8,76.33 419.1,72 C419.4,67.67 419.8,64.83 420.1,62 C420.4,59.17 420.6,58 420.9,55 C421.2,52 421.6,47 421.9,44 C422.2,41 422.45,38.8 422.7,37 C422.95,35.2 423.13,33.67 423.4,33.2 C423.67,32.73 424,33.9 424.3,34.2 C424.6,34.5 424.92,34.63 425.2,35 C425.48,35.37 425.7,35.23 426,36.4 C426.3,37.57 426.67,40.07 427,42 C427.33,43.93 427.67,45.83 428,48 C428.33,50.17 428.7,52 429,55 C429.3,58 429.55,62.5 429.8,66 C430.05,69.5 430.22,72 430.5,76 C430.78,80 431.15,86 431.5,90 C431.85,94 432.15,97.33 432.6,100 C433.05,102.67 433.65,104.25 434.2,106 C434.75,107.75 435.18,108.75 435.9,110.5 C436.62,112.25 437.62,114.78 438.5,116.5 C439.38,118.22 440.2,119.65 441.2,120.8 C442.2,121.95 443.95,122.97 444.5,123.4" fill="none" stroke="#3b2a57" stroke-width="1.1" stroke-opacity="1.0" stroke-linejoin="round"/>
<rect x="400" y="23.4" width="102" height="100.7" fill="none" stroke="#111" stroke-width="1.45"/>
<rect x="453.6" y="28.2" width="6.4" height="3.2" fill="#ffffff" stroke="#3b2a57" stroke-width="1.2"/>
<text x="463.2" y="32.3" font-size="6.9" text-anchor="start" fill="#2a2a2a" stroke="#2a2a2a" stroke-width="0.05" textLength="20.4" lengthAdjust="spacingAndGlyphs">Isotype</text>
<rect x="453.6" y="35.7" width="6.4" height="3.2" fill="#e4e4e8" stroke="#c4c4c8" stroke-width="1.2"/>
<text x="463.2" y="39.8" font-size="6.9" text-anchor="start" fill="#2a2a2a" stroke="#2a2a2a" stroke-width="0.05" textLength="20.5" lengthAdjust="spacingAndGlyphs">Control</text>
<rect x="453.6" y="43" width="6.4" height="3.2" fill="#9aa8c6" stroke="#26375f" stroke-width="1.2"/>
<text x="463.2" y="47.1" font-size="6.9" text-anchor="start" fill="#2a2a2a" stroke="#2a2a2a" stroke-width="0.05" textLength="33.4" lengthAdjust="spacingAndGlyphs">Pam3CSK4</text>
<line x1="418" y1="124.3" x2="418" y2="127.2" stroke="#231f20" stroke-width="1"/>
<line x1="449.1" y1="124.3" x2="449.1" y2="127.2" stroke="#231f20" stroke-width="1"/>
<line x1="470.6" y1="124.3" x2="470.6" y2="127.2" stroke="#231f20" stroke-width="1"/>
<line x1="492.5" y1="124.3" x2="492.5" y2="127.2" stroke="#231f20" stroke-width="1"/>
<line x1="405" y1="124.3" x2="405" y2="126.5" stroke="#333" stroke-width="0.8"/>
<line x1="410.5" y1="124.3" x2="410.5" y2="126.5" stroke="#333" stroke-width="0.8"/>
<line x1="414" y1="124.3" x2="414" y2="126.5" stroke="#333" stroke-width="0.8"/>
<line x1="416.2" y1="124.3" x2="416.2" y2="126.5" stroke="#333" stroke-width="0.8"/>
<line x1="420" y1="124.3" x2="420" y2="126.5" stroke="#333" stroke-width="0.8"/>
<line x1="422" y1="124.3" x2="422" y2="126.5" stroke="#333" stroke-width="0.8"/>
<line x1="425.5" y1="124.3" x2="425.5" y2="126.5" stroke="#333" stroke-width="0.8"/>
<line x1="430.8" y1="124.3" x2="430.8" y2="126.5" stroke="#333" stroke-width="0.8"/>
<line x1="438" y1="124.3" x2="438" y2="126.5" stroke="#333" stroke-width="0.8"/>
<line x1="464.13" y1="124.3" x2="464.13" y2="126.5" stroke="#333" stroke-width="0.8"/>
<line x1="465.83" y1="124.3" x2="465.83" y2="126.5" stroke="#333" stroke-width="0.8"/>
<line x1="467.27" y1="124.3" x2="467.27" y2="126.5" stroke="#333" stroke-width="0.8"/>
<line x1="468.52" y1="124.3" x2="468.52" y2="126.5" stroke="#333" stroke-width="0.8"/>
<line x1="469.62" y1="124.3" x2="469.62" y2="126.5" stroke="#333" stroke-width="0.8"/>
<line x1="485.91" y1="124.3" x2="485.91" y2="126.5" stroke="#333" stroke-width="0.8"/>
<line x1="487.64" y1="124.3" x2="487.64" y2="126.5" stroke="#333" stroke-width="0.8"/>
<line x1="489.11" y1="124.3" x2="489.11" y2="126.5" stroke="#333" stroke-width="0.8"/>
<line x1="490.38" y1="124.3" x2="490.38" y2="126.5" stroke="#333" stroke-width="0.8"/>
<line x1="491.5" y1="124.3" x2="491.5" y2="126.5" stroke="#333" stroke-width="0.8"/>
<text x="418.2" y="137.4" font-size="7.4" text-anchor="middle" fill="#231f20" stroke="#231f20" stroke-width="0.1">0</text>
<text x="448" y="137.6" font-size="7.4" text-anchor="middle" fill="#231f20">10<tspan font-size="5.92" dy="-3">3</tspan></text>
<text x="471.2" y="137.6" font-size="7.4" text-anchor="middle" fill="#231f20">10<tspan font-size="5.92" dy="-3">4</tspan></text>
<text x="492.8" y="137.6" font-size="7.4" text-anchor="middle" fill="#231f20">10<tspan font-size="5.92" dy="-3">5</tspan></text>
<text x="451.4" y="148.7" font-size="9.6" text-anchor="middle" fill="#231f20" stroke="#231f20" stroke-width="0.3" textLength="65" lengthAdjust="spacingAndGlyphs">phospho-p38 MAPK</text>
<g transform="translate(8.7 177.3) scale(1 1)"><text x="0" y="0" font-size="12.2" font-weight="bold" fill="#000" stroke="#000" stroke-width="0.35">E</text></g>
<line x1="37.9" y1="184.3" x2="37.9" y2="284.9" stroke="#111" stroke-width="1.4"/>
<line x1="34.3" y1="284.3" x2="37.9" y2="284.3" stroke="#231f20" stroke-width="1.1"/>
<text x="31.6" y="287.1" font-size="8.1" text-anchor="end" fill="#2a2a2a" stroke="#2a2a2a" stroke-width="0.1">0</text>
<line x1="34.3" y1="264.92" x2="37.9" y2="264.92" stroke="#231f20" stroke-width="1.1"/>
<text x="31.6" y="267.72" font-size="8.1" text-anchor="end" fill="#2a2a2a" stroke="#2a2a2a" stroke-width="0.1">10</text>
<line x1="34.3" y1="245.54" x2="37.9" y2="245.54" stroke="#231f20" stroke-width="1.1"/>
<text x="31.6" y="248.34" font-size="8.1" text-anchor="end" fill="#2a2a2a" stroke="#2a2a2a" stroke-width="0.1">20</text>
<line x1="34.3" y1="226.16" x2="37.9" y2="226.16" stroke="#231f20" stroke-width="1.1"/>
<text x="31.6" y="228.96" font-size="8.1" text-anchor="end" fill="#2a2a2a" stroke="#2a2a2a" stroke-width="0.1">30</text>
<line x1="34.3" y1="206.78" x2="37.9" y2="206.78" stroke="#231f20" stroke-width="1.1"/>
<text x="31.6" y="209.58" font-size="8.1" text-anchor="end" fill="#2a2a2a" stroke="#2a2a2a" stroke-width="0.1">40</text>
<line x1="34.3" y1="187.4" x2="37.9" y2="187.4" stroke="#231f20" stroke-width="1.1"/>
<text x="31.6" y="190.2" font-size="8.1" text-anchor="end" fill="#2a2a2a" stroke="#2a2a2a" stroke-width="0.1">50</text>
<g transform="translate(14.1 234.5) rotate(-90) scale(0.850 1)"><text x="0" y="0" font-size="8.0" text-anchor="middle" fill="#231f20" stroke="#231f20" stroke-width="0.3">CD14<tspan font-size="5.4" dy="-3">+</tspan><tspan dy="3"> cells (%)</tspan></text></g>
<rect x="45.2" y="264.92" width="15" height="19.38" fill="#c6c6ca"/>
<line x1="52.7" y1="264.92" x2="52.7" y2="261.04" stroke="#111" stroke-width="1.4"/>
<line x1="49.5" y1="261.04" x2="55.9" y2="261.04" stroke="#111" stroke-width="1.4"/>
<rect x="67.9" y="216.47" width="15" height="67.83" fill="#2e4b7d"/>
<line x1="75.4" y1="216.47" x2="75.4" y2="204.84" stroke="#111" stroke-width="1.4"/>
<line x1="72.2" y1="204.84" x2="78.6" y2="204.84" stroke="#111" stroke-width="1.4"/>
<rect x="90.6" y="257.17" width="15" height="27.13" fill="#edb828"/>
<line x1="98.1" y1="257.17" x2="98.1" y2="238.76" stroke="#111" stroke-width="1.4"/>
<line x1="94.9" y1="238.76" x2="101.3" y2="238.76" stroke="#111" stroke-width="1.4"/>
<rect x="113.3" y="270.73" width="15" height="13.57" fill="#edb828"/>
<line x1="120.8" y1="270.73" x2="120.8" y2="260.46" stroke="#111" stroke-width="1.4"/>
<line x1="117.6" y1="260.46" x2="124" y2="260.46" stroke="#111" stroke-width="1.4"/>
<line x1="37.2" y1="284.3" x2="135.4" y2="284.3" stroke="#111" stroke-width="1.4"/>
<line x1="52.7" y1="284.3" x2="52.7" y2="287.7" stroke="#111" stroke-width="1.2"/>
<line x1="75.4" y1="284.3" x2="75.4" y2="287.7" stroke="#111" stroke-width="1.2"/>
<line x1="98.1" y1="284.3" x2="98.1" y2="287.7" stroke="#111" stroke-width="1.2"/>
<line x1="120.8" y1="284.3" x2="120.8" y2="287.7" stroke="#111" stroke-width="1.2"/>
<line x1="76.4" y1="189.7" x2="126" y2="189.7" stroke="#111" stroke-width="1.2"/>
<circle cx="95.58" cy="185.1" r="1.35" fill="#111"/>
<circle cx="99.33" cy="185.1" r="1.35" fill="#111"/>
<circle cx="103.08" cy="185.1" r="1.35" fill="#111"/>
<circle cx="106.83" cy="185.1" r="1.35" fill="#111"/>
<line x1="76.4" y1="199.8" x2="101" y2="199.8" stroke="#111" stroke-width="1.2"/>
<circle cx="83.08" cy="195.2" r="1.35" fill="#111"/>
<circle cx="86.83" cy="195.2" r="1.35" fill="#111"/>
<circle cx="90.58" cy="195.2" r="1.35" fill="#111"/>
<circle cx="94.33" cy="195.2" r="1.35" fill="#111"/>
<g transform="rotate(-45 57.3 295.8)">
<text x="29.05" y="286.2" font-size="8.0" text-anchor="middle" fill="#231f20" stroke="#231f20" stroke-width="0.1" textLength="23.28" lengthAdjust="spacingAndGlyphs">DMSO</text>
<text x="29.05" y="295.8" font-size="8.0" text-anchor="middle" fill="#231f20" stroke="#231f20" stroke-width="0.1" textLength="56.5" lengthAdjust="spacingAndGlyphs">(no Pam3CSK4)</text>
</g>
<text x="80" y="295.8" font-size="8.0" text-anchor="end" fill="#231f20" stroke="#231f20" stroke-width="0.1" textLength="22.8" lengthAdjust="spacingAndGlyphs" transform="rotate(-45 80 295.8)">DMSO</text>
<text x="102.7" y="295.8" font-size="8.0" text-anchor="end" fill="#231f20" stroke="#231f20" stroke-width="0.1" textLength="48.72" lengthAdjust="spacingAndGlyphs" transform="rotate(-45 102.7 295.8)">TPCA1 (1 &#956;M)</text>
<text x="125.4" y="295.8" font-size="8.0" text-anchor="end" fill="#231f20" stroke="#231f20" stroke-width="0.1" textLength="48.72" lengthAdjust="spacingAndGlyphs" transform="rotate(-45 125.4 295.8)">TPCA1 (3 &#956;M)</text>
<path d="M63.5,332.3 V337.3 H129.6 V332.3" fill="none" stroke="#111" stroke-width="1.3"/>
<text x="96.6" y="348.1" font-size="7.6" text-anchor="middle" fill="#231f20" stroke="#231f20" stroke-width="0.1" textLength="41.4" lengthAdjust="spacingAndGlyphs">Pam3CSK4</text>
<g transform="translate(143.5 177.1) scale(1 1)"><text x="0" y="0" font-size="12.2" font-weight="bold" fill="#000" stroke="#000" stroke-width="0.35">F</text></g>
<line x1="172.9" y1="183.4" x2="172.9" y2="284.9" stroke="#111" stroke-width="1.4"/>
<line x1="169.3" y1="284.3" x2="172.9" y2="284.3" stroke="#231f20" stroke-width="1.1"/>
<text x="166.6" y="287.1" font-size="8.1" text-anchor="end" fill="#2a2a2a" stroke="#2a2a2a" stroke-width="0.1">0</text>
<line x1="169.3" y1="259.73" x2="172.9" y2="259.73" stroke="#231f20" stroke-width="1.1"/>
<text x="166.6" y="262.53" font-size="8.1" text-anchor="end" fill="#2a2a2a" stroke="#2a2a2a" stroke-width="0.1">10</text>
<line x1="169.3" y1="235.15" x2="172.9" y2="235.15" stroke="#231f20" stroke-width="1.1"/>
<text x="166.6" y="237.95" font-size="8.1" text-anchor="end" fill="#2a2a2a" stroke="#2a2a2a" stroke-width="0.1">20</text>
<line x1="169.3" y1="210.58" x2="172.9" y2="210.58" stroke="#231f20" stroke-width="1.1"/>
<text x="166.6" y="213.38" font-size="8.1" text-anchor="end" fill="#2a2a2a" stroke="#2a2a2a" stroke-width="0.1">30</text>
<line x1="169.3" y1="186" x2="172.9" y2="186" stroke="#231f20" stroke-width="1.1"/>
<text x="166.6" y="188.8" font-size="8.1" text-anchor="end" fill="#2a2a2a" stroke="#2a2a2a" stroke-width="0.1">40</text>
<g transform="translate(150 237.7) rotate(-90) scale(0.810 1)"><text x="0" y="0" font-size="7.6" text-anchor="middle" fill="#231f20" stroke="#231f20" stroke-width="0.3">Cleaved caspase 3 (%)</text></g>
<rect x="179.2" y="262.2" width="12.8" height="22.1" fill="#c6c6ca"/>
<line x1="185.6" y1="262.2" x2="185.6" y2="254.9" stroke="#111" stroke-width="1.4"/>
<line x1="182.4" y1="254.9" x2="188.8" y2="254.9" stroke="#111" stroke-width="1.4"/>
<rect x="204" y="213.1" width="12.8" height="71.2" fill="#2e4b7d"/>
<line x1="210.4" y1="213.1" x2="210.4" y2="196.5" stroke="#111" stroke-width="1.4"/>
<line x1="207.2" y1="196.5" x2="213.6" y2="196.5" stroke="#111" stroke-width="1.4"/>
<rect x="222.1" y="241.4" width="12.8" height="42.9" fill="#edb828"/>
<line x1="228.5" y1="241.4" x2="228.5" y2="234.7" stroke="#111" stroke-width="1.4"/>
<line x1="225.3" y1="234.7" x2="231.7" y2="234.7" stroke="#111" stroke-width="1.4"/>
<rect x="240.4" y="248.5" width="12.8" height="35.8" fill="#edb828"/>
<line x1="246.8" y1="248.5" x2="246.8" y2="237.4" stroke="#111" stroke-width="1.4"/>
<line x1="243.6" y1="237.4" x2="250" y2="237.4" stroke="#111" stroke-width="1.4"/>
<rect x="264.9" y="222.1" width="12.8" height="62.2" fill="#2e4b7d"/>
<line x1="271.3" y1="222.1" x2="271.3" y2="212.7" stroke="#111" stroke-width="1.4"/>
<line x1="268.1" y1="212.7" x2="274.5" y2="212.7" stroke="#111" stroke-width="1.4"/>
<rect x="283.3" y="254" width="12.8" height="30.3" fill="#edb828"/>
<line x1="289.7" y1="254" x2="289.7" y2="245.4" stroke="#111" stroke-width="1.4"/>
<line x1="286.5" y1="245.4" x2="292.9" y2="245.4" stroke="#111" stroke-width="1.4"/>
<rect x="301.7" y="254" width="12.8" height="30.3" fill="#edb828"/>
<line x1="308.1" y1="254" x2="308.1" y2="249.4" stroke="#111" stroke-width="1.4"/>
<line x1="304.9" y1="249.4" x2="311.3" y2="249.4" stroke="#111" stroke-width="1.4"/>
<line x1="172.2" y1="284.3" x2="320.5" y2="284.3" stroke="#111" stroke-width="1.4"/>
<line x1="185.6" y1="284.3" x2="185.6" y2="287.7" stroke="#111" stroke-width="1.2"/>
<line x1="210.4" y1="284.3" x2="210.4" y2="287.7" stroke="#111" stroke-width="1.2"/>
<line x1="228.5" y1="284.3" x2="228.5" y2="287.7" stroke="#111" stroke-width="1.2"/>
<line x1="246.8" y1="284.3" x2="246.8" y2="287.7" stroke="#111" stroke-width="1.2"/>
<line x1="271.3" y1="284.3" x2="271.3" y2="287.7" stroke="#111" stroke-width="1.2"/>
<line x1="289.7" y1="284.3" x2="289.7" y2="287.7" stroke="#111" stroke-width="1.2"/>
<line x1="308.1" y1="284.3" x2="308.1" y2="287.7" stroke="#111" stroke-width="1.2"/>
<line x1="210.7" y1="183.6" x2="246.7" y2="183.6" stroke="#111" stroke-width="1.2"/>
<circle cx="223.07" cy="179" r="1.35" fill="#111"/>
<circle cx="226.82" cy="179" r="1.35" fill="#111"/>
<circle cx="230.57" cy="179" r="1.35" fill="#111"/>
<circle cx="234.32" cy="179" r="1.35" fill="#111"/>
<line x1="211" y1="194.1" x2="228.7" y2="194.1" stroke="#111" stroke-width="1.2"/>
<circle cx="214.22" cy="189.5" r="1.35" fill="#111"/>
<circle cx="217.97" cy="189.5" r="1.35" fill="#111"/>
<circle cx="221.72" cy="189.5" r="1.35" fill="#111"/>
<circle cx="225.47" cy="189.5" r="1.35" fill="#111"/>
<line x1="271.1" y1="199.6" x2="308.3" y2="199.6" stroke="#111" stroke-width="1.2"/>
<circle cx="284.08" cy="195" r="1.35" fill="#111"/>
<circle cx="287.83" cy="195" r="1.35" fill="#111"/>
<circle cx="291.58" cy="195" r="1.35" fill="#111"/>
<circle cx="295.33" cy="195" r="1.35" fill="#111"/>
<line x1="271.1" y1="209.8" x2="289.5" y2="209.8" stroke="#111" stroke-width="1.2"/>
<circle cx="274.68" cy="205.2" r="1.35" fill="#111"/>
<circle cx="278.43" cy="205.2" r="1.35" fill="#111"/>
<circle cx="282.18" cy="205.2" r="1.35" fill="#111"/>
<circle cx="285.93" cy="205.2" r="1.35" fill="#111"/>
<g transform="rotate(-45 190.2 295.8)">
<text x="161.95" y="286.2" font-size="8.0" text-anchor="middle" fill="#231f20" stroke="#231f20" stroke-width="0.1" textLength="23.28" lengthAdjust="spacingAndGlyphs">DMSO</text>
<text x="161.95" y="295.8" font-size="8.0" text-anchor="middle" fill="#231f20" stroke="#231f20" stroke-width="0.1" textLength="56.5" lengthAdjust="spacingAndGlyphs">(no Pam3CSK4)</text>
</g>
<text x="215" y="295.8" font-size="8.0" text-anchor="end" fill="#231f20" stroke="#231f20" stroke-width="0.1" textLength="22.8" lengthAdjust="spacingAndGlyphs" transform="rotate(-45 215 295.8)">DMSO</text>
<text x="233.1" y="295.8" font-size="8.0" text-anchor="end" fill="#231f20" stroke="#231f20" stroke-width="0.1" textLength="62.87" lengthAdjust="spacingAndGlyphs" transform="rotate(-45 233.1 295.8)">SB203580 (1 &#956;M)</text>
<text x="251.4" y="295.8" font-size="8.0" text-anchor="end" fill="#231f20" stroke="#231f20" stroke-width="0.1" textLength="67.31" lengthAdjust="spacingAndGlyphs" transform="rotate(-45 251.4 295.8)">SB203580 (10 &#956;M)</text>
<text x="275.9" y="295.8" font-size="8.0" text-anchor="end" fill="#231f20" stroke="#231f20" stroke-width="0.1" textLength="22.8" lengthAdjust="spacingAndGlyphs" transform="rotate(-45 275.9 295.8)">DMSO</text>
<text x="294.3" y="295.8" font-size="8.0" text-anchor="end" fill="#231f20" stroke="#231f20" stroke-width="0.1" textLength="62.87" lengthAdjust="spacingAndGlyphs" transform="rotate(-45 294.3 295.8)">SB203580 (1 &#956;M)</text>
<text x="312.7" y="295.8" font-size="8.0" text-anchor="end" fill="#231f20" stroke="#231f20" stroke-width="0.1" textLength="67.31" lengthAdjust="spacingAndGlyphs" transform="rotate(-45 312.7 295.8)">SB203580 (10 &#956;M)</text>
<path d="M199.4,348.1 V353 H253.6 V348.1" fill="none" stroke="#111" stroke-width="1.3"/>
<path d="M262.2,348.1 V353 H318.7 V348.1" fill="none" stroke="#111" stroke-width="1.3"/>
<text x="226.3" y="363.4" font-size="7.6" text-anchor="middle" fill="#231f20" stroke="#231f20" stroke-width="0.1" textLength="40.5" lengthAdjust="spacingAndGlyphs">Pam3CSK4</text>
<text x="226.6" y="372.6" font-size="7.6" text-anchor="middle" fill="#231f20" stroke="#231f20" stroke-width="0.1" textLength="34.4" lengthAdjust="spacingAndGlyphs">100 ng/ml</text>
<text x="290.4" y="363.4" font-size="7.6" text-anchor="middle" fill="#231f20" stroke="#231f20" stroke-width="0.1" textLength="40.5" lengthAdjust="spacingAndGlyphs">Pam3CSK4</text>
<text x="290.4" y="372.6" font-size="7.6" text-anchor="middle" fill="#231f20" stroke="#231f20" stroke-width="0.1" textLength="30.2" lengthAdjust="spacingAndGlyphs">10 ng/ml</text>
<g transform="translate(329.8 176.9) scale(1 1)"><text x="0" y="0" font-size="12.2" font-weight="bold" fill="#000" stroke="#000" stroke-width="0.35">G</text></g>
<line x1="365.2" y1="183.4" x2="365.2" y2="285" stroke="#111" stroke-width="1.4"/>
<line x1="361.6" y1="284.4" x2="365.2" y2="284.4" stroke="#231f20" stroke-width="1.1"/>
<text x="358.9" y="287.2" font-size="8.1" text-anchor="end" fill="#2a2a2a" stroke="#2a2a2a" stroke-width="0.1">0</text>
<line x1="361.6" y1="264.76" x2="365.2" y2="264.76" stroke="#231f20" stroke-width="1.1"/>
<text x="358.9" y="267.56" font-size="8.1" text-anchor="end" fill="#2a2a2a" stroke="#2a2a2a" stroke-width="0.1">20</text>
<line x1="361.6" y1="245.12" x2="365.2" y2="245.12" stroke="#231f20" stroke-width="1.1"/>
<text x="358.9" y="247.92" font-size="8.1" text-anchor="end" fill="#2a2a2a" stroke="#2a2a2a" stroke-width="0.1">40</text>
<line x1="361.6" y1="225.48" x2="365.2" y2="225.48" stroke="#231f20" stroke-width="1.1"/>
<text x="358.9" y="228.28" font-size="8.1" text-anchor="end" fill="#2a2a2a" stroke="#2a2a2a" stroke-width="0.1">60</text>
<line x1="361.6" y1="205.84" x2="365.2" y2="205.84" stroke="#231f20" stroke-width="1.1"/>
<text x="358.9" y="208.64" font-size="8.1" text-anchor="end" fill="#2a2a2a" stroke="#2a2a2a" stroke-width="0.1">80</text>
<line x1="361.6" y1="186.2" x2="365.2" y2="186.2" stroke="#231f20" stroke-width="1.1"/>
<text x="358.9" y="189" font-size="8.1" text-anchor="end" fill="#2a2a2a" stroke="#2a2a2a" stroke-width="0.1">100</text>
<g transform="translate(338.6 233.6) rotate(-90) scale(0.820 1)"><text x="0" y="0" font-size="8.4" text-anchor="middle" fill="#231f20" stroke="#231f20" stroke-width="0.3">Annexin V<tspan font-size="5.6" dy="-3">+</tspan><tspan dy="3"> cells (%)</tspan></text></g>
<rect x="371.1" y="267.9" width="12.4" height="16.5" fill="#c6c6ca"/>
<line x1="377.3" y1="267.9" x2="377.3" y2="264.27" stroke="#111" stroke-width="1.4"/>
<line x1="374.1" y1="264.27" x2="380.5" y2="264.27" stroke="#111" stroke-width="1.4"/>
<rect x="395.8" y="221.26" width="12.4" height="63.14" fill="#2e4b7d"/>
<line x1="402" y1="221.26" x2="402" y2="217.43" stroke="#111" stroke-width="1.4"/>
<line x1="398.8" y1="217.43" x2="405.2" y2="217.43" stroke="#111" stroke-width="1.4"/>
<rect x="414" y="230.39" width="12.4" height="54.01" fill="#edb828"/>
<line x1="420.2" y1="230.39" x2="420.2" y2="223.91" stroke="#111" stroke-width="1.4"/>
<line x1="417" y1="223.91" x2="423.4" y2="223.91" stroke="#111" stroke-width="1.4"/>
<rect x="432.3" y="236.09" width="12.4" height="48.31" fill="#edb828"/>
<line x1="438.5" y1="236.09" x2="438.5" y2="229.51" stroke="#111" stroke-width="1.4"/>
<line x1="435.3" y1="229.51" x2="441.7" y2="229.51" stroke="#111" stroke-width="1.4"/>
<rect x="456.8" y="220.57" width="12.4" height="63.83" fill="#2e4b7d"/>
<line x1="463" y1="220.57" x2="463" y2="211.44" stroke="#111" stroke-width="1.4"/>
<line x1="459.8" y1="211.44" x2="466.2" y2="211.44" stroke="#111" stroke-width="1.4"/>
<rect x="475.3" y="249.24" width="12.4" height="35.16" fill="#edb828"/>
<line x1="481.5" y1="249.24" x2="481.5" y2="243.25" stroke="#111" stroke-width="1.4"/>
<line x1="478.3" y1="243.25" x2="484.7" y2="243.25" stroke="#111" stroke-width="1.4"/>
<rect x="493.8" y="251.99" width="12.4" height="32.41" fill="#edb828"/>
<line x1="500" y1="251.99" x2="500" y2="250.03" stroke="#111" stroke-width="1.4"/>
<line x1="496.8" y1="250.03" x2="503.2" y2="250.03" stroke="#111" stroke-width="1.4"/>
<line x1="364.5" y1="284.4" x2="512" y2="284.4" stroke="#111" stroke-width="1.4"/>
<line x1="377.3" y1="284.4" x2="377.3" y2="287.8" stroke="#111" stroke-width="1.2"/>
<line x1="402" y1="284.4" x2="402" y2="287.8" stroke="#111" stroke-width="1.2"/>
<line x1="420.2" y1="284.4" x2="420.2" y2="287.8" stroke="#111" stroke-width="1.2"/>
<line x1="438.5" y1="284.4" x2="438.5" y2="287.8" stroke="#111" stroke-width="1.2"/>
<line x1="463" y1="284.4" x2="463" y2="287.8" stroke="#111" stroke-width="1.2"/>
<line x1="481.5" y1="284.4" x2="481.5" y2="287.8" stroke="#111" stroke-width="1.2"/>
<line x1="500" y1="284.4" x2="500" y2="287.8" stroke="#111" stroke-width="1.2"/>
<line x1="402.5" y1="203.6" x2="438.6" y2="203.6" stroke="#111" stroke-width="1.2"/>
<circle cx="414.93" cy="199" r="1.35" fill="#111"/>
<circle cx="418.68" cy="199" r="1.35" fill="#111"/>
<circle cx="422.43" cy="199" r="1.35" fill="#111"/>
<circle cx="426.18" cy="199" r="1.35" fill="#111"/>
<line x1="403.1" y1="213.6" x2="419.8" y2="213.6" stroke="#111" stroke-width="1.2"/>
<circle cx="409.58" cy="209" r="1.35" fill="#111"/>
<circle cx="413.33" cy="209" r="1.35" fill="#111"/>
<line x1="463" y1="198.3" x2="498.6" y2="198.3" stroke="#111" stroke-width="1.2"/>
<circle cx="475.18" cy="193.7" r="1.35" fill="#111"/>
<circle cx="478.93" cy="193.7" r="1.35" fill="#111"/>
<circle cx="482.68" cy="193.7" r="1.35" fill="#111"/>
<circle cx="486.43" cy="193.7" r="1.35" fill="#111"/>
<line x1="463" y1="208.5" x2="483.7" y2="208.5" stroke="#111" stroke-width="1.2"/>
<circle cx="467.73" cy="203.9" r="1.35" fill="#111"/>
<circle cx="471.48" cy="203.9" r="1.35" fill="#111"/>
<circle cx="475.23" cy="203.9" r="1.35" fill="#111"/>
<circle cx="478.98" cy="203.9" r="1.35" fill="#111"/>
<g transform="rotate(-45 381.9 295.8)">
<text x="353.65" y="286.2" font-size="8.0" text-anchor="middle" fill="#231f20" stroke="#231f20" stroke-width="0.1" textLength="23.28" lengthAdjust="spacingAndGlyphs">DMSO</text>
<text x="353.65" y="295.8" font-size="8.0" text-anchor="middle" fill="#231f20" stroke="#231f20" stroke-width="0.1" textLength="56.5" lengthAdjust="spacingAndGlyphs">(no Pam3CSK4)</text>
</g>
<text x="406.6" y="295.8" font-size="8.0" text-anchor="end" fill="#231f20" stroke="#231f20" stroke-width="0.1" textLength="22.8" lengthAdjust="spacingAndGlyphs" transform="rotate(-45 406.6 295.8)">DMSO</text>
<text x="424.8" y="295.8" font-size="8.0" text-anchor="end" fill="#231f20" stroke="#231f20" stroke-width="0.1" textLength="62.87" lengthAdjust="spacingAndGlyphs" transform="rotate(-45 424.8 295.8)">SB203580 (1 &#956;M)</text>
<text x="443.1" y="295.8" font-size="8.0" text-anchor="end" fill="#231f20" stroke="#231f20" stroke-width="0.1" textLength="67.31" lengthAdjust="spacingAndGlyphs" transform="rotate(-45 443.1 295.8)">SB203580 (10 &#956;M)</text>
<text x="467.6" y="295.8" font-size="8.0" text-anchor="end" fill="#231f20" stroke="#231f20" stroke-width="0.1" textLength="22.8" lengthAdjust="spacingAndGlyphs" transform="rotate(-45 467.6 295.8)">DMSO</text>
<text x="486.1" y="295.8" font-size="8.0" text-anchor="end" fill="#231f20" stroke="#231f20" stroke-width="0.1" textLength="62.87" lengthAdjust="spacingAndGlyphs" transform="rotate(-45 486.1 295.8)">SB203580 (1 &#956;M)</text>
<text x="504.6" y="295.8" font-size="8.0" text-anchor="end" fill="#231f20" stroke="#231f20" stroke-width="0.1" textLength="67.31" lengthAdjust="spacingAndGlyphs" transform="rotate(-45 504.6 295.8)">SB203580 (10 &#956;M)</text>
<path d="M391.3,348.1 V353 H446.2 V348.1" fill="none" stroke="#111" stroke-width="1.3"/>
<path d="M454.6,348.1 V353 H511.1 V348.1" fill="none" stroke="#111" stroke-width="1.3"/>
<text x="418.7" y="363.4" font-size="7.6" text-anchor="middle" fill="#231f20" stroke="#231f20" stroke-width="0.1" textLength="41.2" lengthAdjust="spacingAndGlyphs">Pam3CSK4</text>
<text x="418.7" y="372.6" font-size="7.6" text-anchor="middle" fill="#231f20" stroke="#231f20" stroke-width="0.1" textLength="35" lengthAdjust="spacingAndGlyphs">100 ng/ml</text>
<text x="483" y="363.4" font-size="7.6" text-anchor="middle" fill="#231f20" stroke="#231f20" stroke-width="0.1" textLength="41.7" lengthAdjust="spacingAndGlyphs">Pam3CSK4</text>
<text x="482.6" y="372.6" font-size="7.6" text-anchor="middle" fill="#231f20" stroke="#231f20" stroke-width="0.1" textLength="30.2" lengthAdjust="spacingAndGlyphs">10 ng/ml</text>
<rect x="0.5" y="0.5" width="519" height="382" fill="none" stroke="#000" stroke-width="1"/>
<rect x="1.5" y="1.5" width="517" height="380" fill="none" stroke="#000" stroke-opacity="0.35" stroke-width="1"/>
</svg>
</div>
</body></html>
